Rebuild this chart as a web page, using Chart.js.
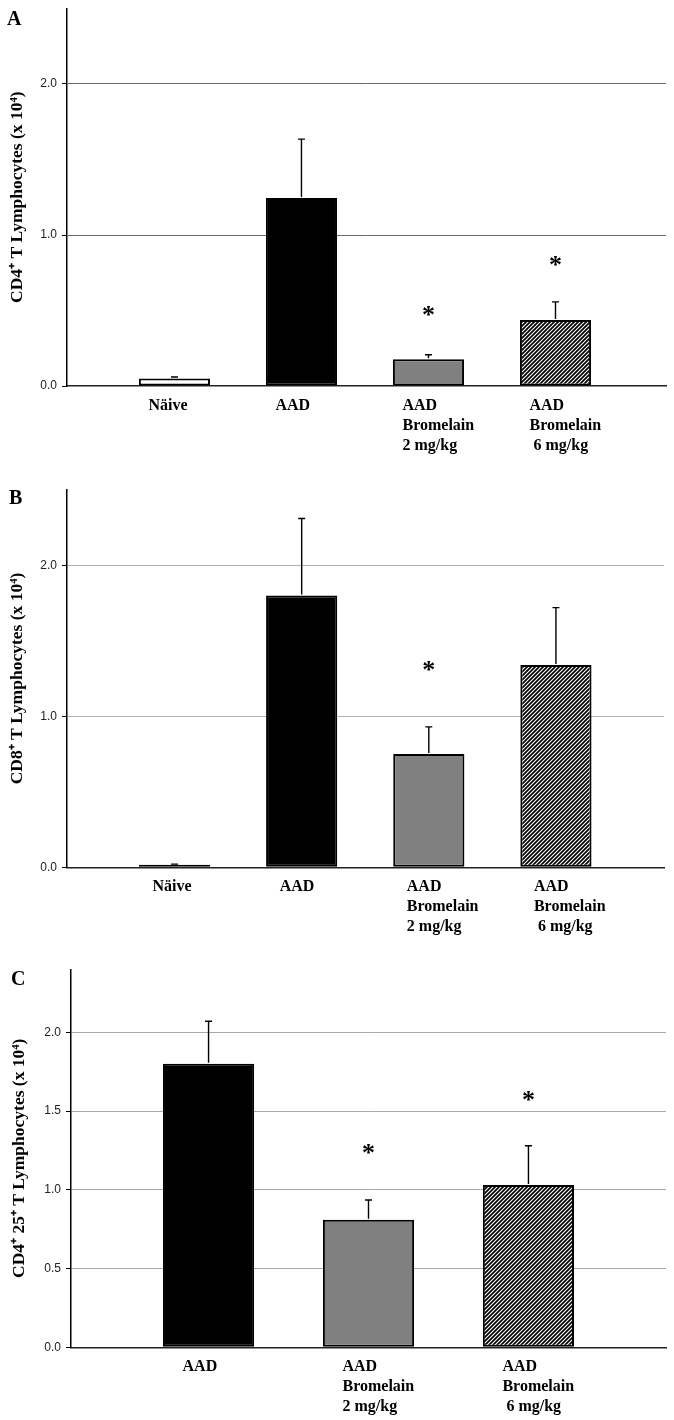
<!DOCTYPE html>
<html>
<head>
<meta charset="utf-8">
<script src="https://cdn.jsdelivr.net/npm/chart.js@4.4.1/dist/chart.umd.min.js"></script>
<style>
  body { margin: 0; background: #fff; width: 674px; height: 1420px; position: relative; overflow: hidden; }
  .panel { position: absolute; left: 0; width: 674px; }
  .letter { position: absolute; font: bold 20px "Liberation Serif", "Times New Roman", serif; line-height: 20px; color: #000; }
</style>
</head>
<body>
<div class="panel" style="top:0;height:470px"><canvas id="chartA" width="674" height="470"></canvas></div>
<div class="panel" style="top:470px;height:480px"><canvas id="chartB" width="674" height="480"></canvas></div>
<div class="panel" style="top:950px;height:470px"><canvas id="chartC" width="674" height="470"></canvas></div>
<div class="letter" style="left:7px;top:8px">A</div>
<div class="letter" style="left:9px;top:487px">B</div>
<div class="letter" style="left:11px;top:968px">C</div>
<script>
// groups on the x axis
const groupLabels = [['Näive'], ['AAD'], ['AAD', 'Bromelain', '2 mg/kg'], ['AAD', 'Bromelain', ' 6 mg/kg']];
const groupLabelsC = groupLabels.slice(1);

// panel A - CD4+ T cells (x 10^4)
const cd4Mean = [0.05, 1.245, 0.177, 0.437];
const cd4Err = [0.01, 0.39, 0.03, 0.12];
const cd4Star = [null, null, 0.50, 0.83];

// panel B - CD8+ T cells
const cd8Mean = [0.017, 1.80, 0.75, 1.34];
const cd8Err = [0.004, 0.51, 0.18, 0.38];
const cd8Star = [null, null, 1.33, null];

// panel C - CD4+ CD25+ T cells
const cd25Mean = [1.80, 0.81, 1.03];
const cd25Err = [0.27, 0.125, 0.25];
const cd25Star = [null, 1.26, 1.595];

const yTicksAB = [0, 1, 2];
const yTicksC = [0, 0.5, 1, 1.5, 2];

Chart.defaults.font.family = '"Liberation Serif", "Times New Roman", serif';

// diagonal hatch for the 6 mg/kg bar
function makeHatch() {
    const c = document.createElement('canvas');
    c.width = 8; c.height = 8;
    const g = c.getContext('2d');
    g.fillStyle = '#fff';
    g.fillRect(0, 0, 8, 8);
    g.strokeStyle = '#000';
    g.lineWidth = 1.7;
    g.beginPath();
    for (let k = 0; k <= 16; k += 4) {
        g.moveTo(k + 1, -1);
        g.lineTo(k - 9, 9);
    }
    g.stroke();
    return g.createPattern(c, 'repeat');
}
const hatch = makeHatch();

// error bars (upper only) and significance stars
function errorBars(means, errs, stars) {
    return {
        id: 'errorBars',
        afterDatasetsDraw(chart) {
            const { ctx, scales: { x, y } } = chart;
            ctx.save();
            ctx.strokeStyle = '#000';
            ctx.lineWidth = 1.4;
            means.forEach((m, i) => {
                const px = x.getPixelForValue(i);
                const y0 = y.getPixelForValue(m) - 1;
                const y1 = y.getPixelForValue(m + errs[i]);
                ctx.beginPath();
                ctx.moveTo(px, y0);
                ctx.lineTo(px, y1);
                ctx.moveTo(px - 3.5, y1);
                ctx.lineTo(px + 3.5, y1);
                ctx.stroke();
            });
            ctx.font = 'bold 26px "Liberation Serif", serif';
            ctx.fillStyle = '#000';
            ctx.textAlign = 'center';
            ctx.textBaseline = 'alphabetic';
            stars.forEach((s, i) => {
                if (s == null) return;
                const m = ctx.measureText('*');
                const cy = y.getPixelForValue(s);
                ctx.fillText('*', x.getPixelForValue(i), cy + (m.actualBoundingBoxAscent - m.actualBoundingBoxDescent) / 2);
            });
            ctx.restore();
        }
    };
}

function makeChart(id, o) {
    const canvas = document.getElementById(id);
    return new Chart(canvas, {
        type: 'bar',
        data: {
            datasets: [{
                data: o.means.map((v, i) => ({ x: i, y: v })),
                backgroundColor: o.fills,
                borderColor: '#000',
                borderWidth: 2,
                borderSkipped: false,
                barPercentage: o.barPct,
                categoryPercentage: 1
            }]
        },
        options: {
            responsive: false,
            animation: false,
            layout: { padding: { top: o.top, right: canvas.width - o.right, left: 0, bottom: 0 } },
            plugins: { legend: { display: false }, tooltip: { enabled: false } },
            scales: {
                x: {
                    type: 'linear',
                    min: o.xMin,
                    max: o.xMax,
                    offset: false,
                    grid: { display: false, drawTicks: false },
                    border: { display: true, color: '#222', width: 1.5 },
                    afterBuildTicks: s => { s.ticks = o.labels.map((_, i) => ({ value: i })); },
                    afterFit: s => { s.height = canvas.height - o.bottom; s.paddingLeft = 0; s.paddingRight = 0; },
                    ticks: {
                        autoSkip: false,
                        maxRotation: 0,
                        align: 'start',
                        labelOffset: o.labelOffset,
                        padding: 10,
                        color: '#000',
                        font: { size: 16, weight: 'bold', lineHeight: 1.25 },
                        callback: (v, i) => o.labels[i]
                    }
                },
                y: {
                    min: 0,
                    max: o.yMax,
                    afterBuildTicks: s => { s.ticks = o.yTicks.map(v => ({ value: v })); },
                    afterFit: s => { s.width = o.left; s.paddingTop = 0; s.paddingBottom = 0; },
                    grid: {
                        color: c => (c.tick && c.tick.value === 0) ? 'rgba(0,0,0,0)' : o.gridColor,
                        tickColor: '#000',
                        tickLength: 5,
                        lineWidth: 1
                    },
                    border: { color: '#000', width: 1.5 },
                    ticks: {
                        padding: 5,
                        color: '#222',
                        font: { family: '"Liberation Sans", Arial, sans-serif', size: 12 },
                        callback: v => Number(v).toFixed(1)
                    },
                    title: {
                        display: true,
                        text: o.title,
                        color: '#000',
                        font: { size: 17.5, weight: 'bold' },
                        padding: { top: o.titlePad, bottom: 0 }
                    }
                }
            }
        },
        plugins: [errorBars(o.means, o.errs, o.stars)]
    });
}

makeChart('chartA', {
    labels: groupLabels, means: cd4Mean, errs: cd4Err, stars: cd4Star, yTicks: yTicksAB,
    fills: ['#ffffff', '#000000', '#808080', hatch],
    title: 'CD4⁺ T Lymphocytes (x 10⁴)',
    top: 8.5, bottom: 386, left: 67, right: 666, yMax: 2.5,
    xMin: -0.846, xMax: 3.87, barPct: 0.56, labelOffset: -26, titlePad: 7, gridColor: '#6a6a6a'
});

makeChart('chartB', {
    labels: groupLabels, means: cd8Mean, errs: cd8Err, stars: cd8Star, yTicks: yTicksAB,
    fills: ['#ffffff', '#000000', '#808080', hatch],
    title: 'CD8⁺ T Lymphocytes (x 10⁴)',
    top: 19.8, bottom: 397.3, left: 67, right: 664, yMax: 2.5,
    xMin: -0.846, xMax: 3.85, barPct: 0.56, labelOffset: -22, titlePad: 7, gridColor: '#b0b0b0'
});

makeChart('chartC', {
    labels: groupLabelsC, means: cd25Mean, errs: cd25Err, stars: cd25Star, yTicks: yTicksC,
    fills: ['#000000', '#808080', hatch],
    title: 'CD4⁺ 25⁺ T Lymphocytes (x 10⁴)',
    top: 19.3, bottom: 397.3, left: 71, right: 666, yMax: 2.4,
    xMin: -0.86, xMax: 2.86, barPct: 0.57, labelOffset: -26, titlePad: 9, gridColor: '#a8a8a8'
});
</script>
</body>
</html>
